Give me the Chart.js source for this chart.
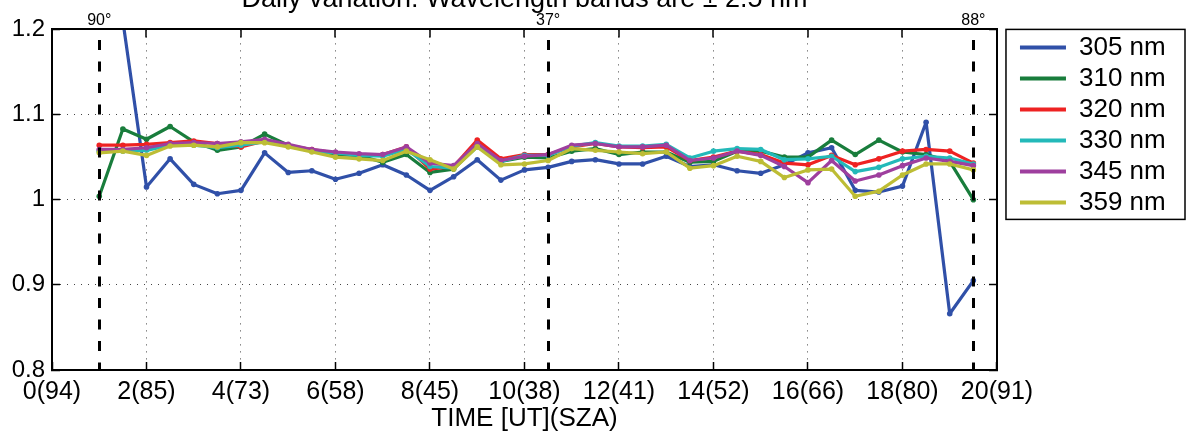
<!DOCTYPE html>
<html>
<head>
<meta charset="utf-8">
<script src="https://cdn.jsdelivr.net/npm/chart.js@4.4.1/dist/chart.umd.min.js"></script>
<style>
html, body { margin: 0; padding: 0; background: #ffffff; }
#wrap { width: 1188px; height: 435px; position: relative; }
</style>
</head>
<body>
<div id="wrap"><canvas id="c"></canvas></div>
<script>
const FONT = '"Liberation Sans", Arial, Helvetica, sans-serif';

const titleText = 'Daily variation: Wavelength bands are \u00b1 2.5 nm';
const xAxisTitle = 'TIME [UT](SZA)';

const timeValues = [1, 1.5, 2, 2.5, 3, 3.5, 4, 4.5, 5, 5.5, 6, 6.5, 7, 7.5, 8, 8.5, 9, 9.5, 10, 10.5,
                    11, 11.5, 12, 12.5, 13, 13.5, 14, 14.5, 15, 15.5, 16, 16.5, 17, 17.5, 18, 18.5, 19, 19.5];

const seriesLabels = ['305 nm', '310 nm', '320 nm', '330 nm', '345 nm', '359 nm'];
const seriesColors = ['#3050A8', '#197D3C', '#EE2222', '#23B9B9', '#9E3F9E', '#BDBD35'];

const s305 = [null, 1.21, 1.015, 1.048, 1.018, 1.007, 1.011, 1.055, 1.032, 1.034, 1.024, 1.031, 1.041, 1.029, 1.011, 1.027, 1.047, 1.023, 1.035, 1.038,
              1.045, 1.047, 1.042, 1.042, 1.051, 1.039, 1.041, 1.034, 1.031, 1.041, 1.055, 1.061, 1.011, 1.009, 1.016, 1.091, 0.866, 0.905];
const s310 = [1.004, 1.083, 1.071, 1.086, 1.068, 1.058, 1.062, 1.077, 1.064, 1.057, 1.053, 1.052, 1.044, 1.053, 1.032, 1.036, 1.064, 1.045, 1.050, 1.049,
              1.057, 1.060, 1.053, 1.056, 1.056, 1.044, 1.045, 1.057, 1.057, 1.050, 1.050, 1.070, 1.053, 1.070, 1.056, 1.053, 1.045, 1.000];
const s320 = [1.064, 1.064, 1.065, 1.067, 1.069, 1.066, 1.062, 1.069, 1.064, 1.059, 1.055, 1.053, 1.053, 1.062, 1.036, 1.039, 1.070, 1.048, 1.053, 1.053,
              1.062, 1.066, 1.062, 1.061, 1.062, 1.046, 1.050, 1.057, 1.053, 1.043, 1.041, 1.052, 1.041, 1.048, 1.057, 1.059, 1.057, 1.043];
const s330 = [1.057, 1.057, 1.058, 1.064, 1.064, 1.061, 1.064, 1.068, 1.063, 1.057, 1.055, 1.052, 1.051, 1.059, 1.039, 1.037, 1.062, 1.045, 1.052, 1.052,
              1.063, 1.067, 1.063, 1.063, 1.065, 1.049, 1.057, 1.060, 1.059, 1.047, 1.048, 1.051, 1.033, 1.038, 1.048, 1.051, 1.049, 1.042];
const s345 = [1.059, 1.059, 1.061, 1.066, 1.067, 1.066, 1.068, 1.071, 1.065, 1.059, 1.056, 1.054, 1.053, 1.062, 1.043, 1.040, 1.066, 1.046, 1.051, 1.053,
              1.064, 1.066, 1.062, 1.062, 1.064, 1.046, 1.049, 1.057, 1.052, 1.039, 1.020, 1.046, 1.022, 1.029, 1.040, 1.049, 1.045, 1.040];
const s359 = [1.055, 1.057, 1.052, 1.063, 1.064, 1.062, 1.067, 1.067, 1.062, 1.056, 1.050, 1.048, 1.046, 1.057, 1.047, 1.036, 1.062, 1.041, 1.042, 1.046,
              1.060, 1.058, 1.056, 1.054, 1.056, 1.037, 1.040, 1.051, 1.045, 1.026, 1.035, 1.036, 1.004, 1.010, 1.029, 1.042, 1.042, 1.035];

const xTickValues = [0, 2, 4, 6, 8, 10, 12, 14, 16, 18, 20];
const xTickLabels = ['0(94)', '2(85)', '4(73)', '6(58)', '8(45)', '10(38)', '12(41)', '14(52)', '16(66)', '18(80)', '20(91)'];
const yTickValues = [0.8, 0.9, 1.0, 1.1, 1.2];
const yTickLabels = ['0.8', '0.9', '1', '1.1', '1.2'];

const szaMarkTimes = [1, 10.5, 19.5];
const szaMarkLabels = ['90\u00b0', '37\u00b0', '88\u00b0'];

const seriesValues = [s305, s310, s320, s330, s345, s359];
const topTickValues = xTickValues.concat(szaMarkTimes).sort((a, b) => a - b);
const isSza = (v) => szaMarkTimes.indexOf(v) >= 0;

const datasets = seriesValues.map((vals, i) => ({
  label: seriesLabels[i],
  data: timeValues.map((t, j) => ({ x: t, y: vals[j] })),
  xAxisID: 'x',
  yAxisID: 'y',
  borderColor: seriesColors[i],
  backgroundColor: seriesColors[i],
  pointBackgroundColor: seriesColors[i],
  pointBorderColor: seriesColors[i],
  borderWidth: 3.2,
  pointRadius: 2.8,
  pointBorderWidth: 0,
  pointHoverRadius: 0,
  borderJoinStyle: 'round',
  tension: 0,
  clip: 0,
  order: seriesValues.length - i
}));

const legendFrame = {
  id: 'legendFrame',
  afterDraw(chart) {
    const L = chart.legend;
    if (!L || !L.legendHitBoxes || !L.legendHitBoxes.length) return;
    const hb = L.legendHitBoxes;
    const last = hb[hb.length - 1];
    const ctx = chart.ctx;
    const x1 = chart.chartArea.right + 9;
    const y1 = chart.chartArea.top;
    const x2 = chart.width - 3;
    const y2 = last.top + last.height + 4;
    ctx.save();
    ctx.lineWidth = 1.5;
    ctx.strokeStyle = '#000';
    ctx.strokeRect(x1, y1, x2 - x1, y2 - y1);
    ctx.restore();
  }
};

new Chart(document.getElementById('c'), {
  type: 'line',
  data: { datasets },
  plugins: [legendFrame],
  options: {
    responsive: true,
    maintainAspectRatio: false,
    animation: false,
    events: [],
    layout: { padding: { left: 0, right: 12.3, top: 0, bottom: 0 } },
    plugins: {
      title: {
        display: true,
        text: titleText,
        fullSize: false,
        color: '#000',
        font: { family: FONT, size: 27, weight: 'normal' },
        padding: { top: -18.85, bottom: -6.55 }
      },
      legend: {
        display: true,
        position: 'right',
        align: 'start',
        fullSize: false,
        labels: {
          color: '#000',
          font: { family: FONT, size: 26 },
          padding: 5,
          usePointStyle: true,
          pointStyle: 'line',
          pointStyleWidth: 46,
          sort: (a, b) => a.datasetIndex - b.datasetIndex,
          generateLabels: (chart) => Chart.defaults.plugins.legend.labels.generateLabels(chart).map(it =>
            Object.assign(it, { lineWidth: 4, strokeStyle: seriesColors[it.datasetIndex], pointStyle: 'line' }))
        }
      },
      tooltip: { enabled: false }
    },
    scales: {
      x: {
        type: 'linear',
        position: 'bottom',
        min: 0,
        max: 20,
        afterBuildTicks: (s) => { s.ticks = xTickValues.map(v => ({ value: v })); },
        afterFit: (s) => { s.height = 65; },
        ticks: {
          autoSkip: false, maxRotation: 0, minRotation: 0, padding: 15, color: '#000',
          font: { family: FONT, size: 25 },
          callback: (v) => { const i = xTickValues.indexOf(v); return i >= 0 ? xTickLabels[i] : ''; }
        },
        grid: { color: '#444', lineWidth: 1, drawTicks: true, tickLength: -8, tickColor: '#000', tickWidth: 1.5 },
        border: { display: true, color: '#000', width: 2, dash: [1, 6] },
        title: { display: true, text: xAxisTitle, color: '#000', font: { family: FONT, size: 26 }, padding: { top: 0, bottom: 0.5 } }
      },
      x2: {
        type: 'linear',
        position: 'top',
        min: 0,
        max: 20,
        afterBuildTicks: (s) => { s.ticks = topTickValues.map(v => ({ value: v })); },
        afterFit: (s) => { s.height = 20; },
        ticks: {
          autoSkip: false, maxRotation: 0, minRotation: 0, padding: 7.7, color: '#000',
          font: { family: FONT, size: 16 },
          callback: (v) => { const i = szaMarkTimes.indexOf(v); return i >= 0 ? szaMarkLabels[i] : ''; }
        },
        grid: {
          z: 1,
          drawOnChartArea: true,
          drawTicks: true,
          tickLength: -8,
          color: (c) => (c.tick && isSza(c.tick.value)) ? '#000' : 'rgba(0,0,0,0)',
          lineWidth: (c) => (c.tick && isSza(c.tick.value)) ? 3 : 0,
          tickColor: (c) => (c.tick && isSza(c.tick.value)) ? 'rgba(0,0,0,0)' : '#000',
          tickWidth: 1.5
        },
        border: { display: true, z: 1, color: '#000', width: 2, dash: [10, 11.5], dashOffset: 11.5 }
      },
      y: {
        type: 'linear',
        position: 'left',
        min: 0.8,
        max: 1.2,
        afterBuildTicks: (s) => { s.ticks = yTickValues.map(v => ({ value: v })); },
        afterFit: (s) => { s.width = 52; },
        ticks: {
          padding: 15, color: '#000',
          font: { family: FONT, size: 24 },
          callback: (v, i) => yTickLabels[i]
        },
        grid: { color: '#444', lineWidth: 1, drawTicks: true, tickLength: -8, tickColor: '#000', tickWidth: 1.5 },
        border: { display: true, color: '#000', width: 2, dash: [1, 6] }
      },
      y2: {
        type: 'linear',
        position: 'right',
        min: 0.8,
        max: 1.2,
        afterBuildTicks: (s) => { s.ticks = yTickValues.map(v => ({ value: v })); },
        afterFit: (s) => { s.width = 18; },
        ticks: { display: false },
        grid: { drawOnChartArea: false, drawTicks: true, tickLength: -8, color: '#000', tickColor: '#000', tickWidth: 1.5 },
        border: { display: true, color: '#000', width: 2 }
      }
    }
  }
});
</script>
</body>
</html>
